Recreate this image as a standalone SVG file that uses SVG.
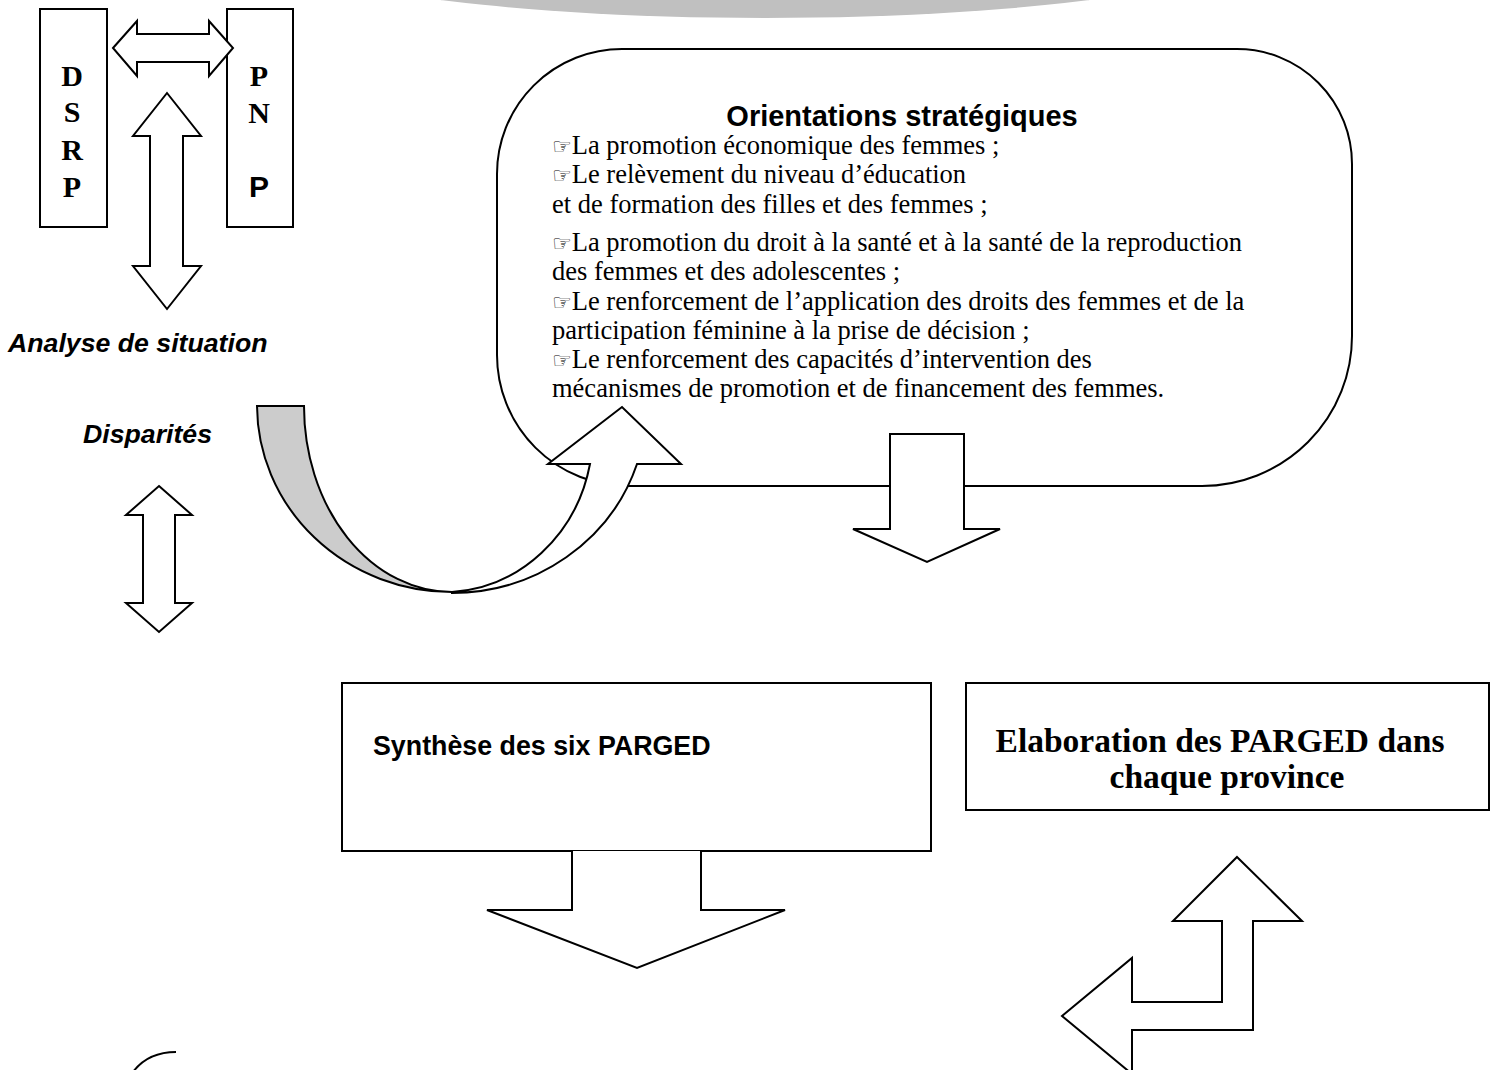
<svg xmlns="http://www.w3.org/2000/svg" width="1491" height="1070" viewBox="0 0 1491 1070">
<style>
.sh{fill:#fff;stroke:#000;stroke-width:2;stroke-linejoin:miter}
.box{fill:#fff;stroke:#000;stroke-width:2}
.tb{font-family:"Liberation Serif",serif;font-weight:bold;fill:#000}
.body{font-family:"Liberation Serif",serif;font-size:26.5px;fill:#000}
.hand{font-family:"DejaVu Sans",sans-serif;font-size:22px}
.ai{font-family:"Liberation Sans",sans-serif;font-weight:bold;font-style:italic;font-size:26.7px;fill:#000}
</style>
<rect width="1491" height="1070" fill="#fff"/>
<ellipse cx="765" cy="-60" rx="508" ry="78" fill="#c0c0c0"/>

<g id="dsrp">
<rect class="box" x="40" y="9" width="67" height="218"/>
<text class="tb" font-size="30" text-anchor="middle" x="72" y="86">D</text>
<text class="tb" font-size="30" text-anchor="middle" x="72" y="122">S</text>
<text class="tb" font-size="30" text-anchor="middle" x="72" y="160">R</text>
<text class="tb" font-size="30" text-anchor="middle" x="72" y="197">P</text>
</g>
<g id="pnp">
<rect class="box" x="227" y="9" width="66" height="218"/>
<text class="tb" font-size="30" text-anchor="middle" x="259" y="86">P</text>
<text class="tb" font-size="30" text-anchor="middle" x="259" y="123">N</text>
<text font-family="Liberation Sans,sans-serif" font-weight="bold" font-size="30" text-anchor="middle" x="259" y="197">P</text>
</g>

<g id="analyse"><text class="ai" x="8" y="352">Analyse de situation</text></g>
<g id="disparites"><text class="ai" x="83" y="443">Disparités</text></g>

<g id="orientations">
<path class="box" d="M622,49 H1237 A115,115 0 0 1 1352,164 V336 A150,150 0 0 1 1202,486 H628 A131,131 0 0 1 497,355 V174 A125,125 0 0 1 622,49 Z"/>
<text font-family="Liberation Sans,sans-serif" font-weight="bold" font-size="29" text-anchor="middle" x="902" y="126">Orientations stratégiques</text>
<text class="body" x="552" y="154"><tspan class="hand" font-weight="bold">☞</tspan>La promotion économique des femmes ;</text>
<text class="body" x="552" y="183"><tspan class="hand">☞</tspan>Le relèvement du niveau d’éducation</text>
<text class="body" x="552" y="213">et de formation des filles et des femmes ;</text>
<text class="body" x="552" y="251"><tspan class="hand">☞</tspan>La promotion du droit à la santé et à la santé de la reproduction</text>
<text class="body" x="552" y="280">des femmes et des adolescentes ;</text>
<text class="body" x="552" y="310"><tspan class="hand">☞</tspan>Le renforcement de l’application des droits des femmes et de la</text>
<text class="body" x="552" y="339">participation féminine à la prise de décision ;</text>
<text class="body" x="552" y="368"><tspan class="hand">☞</tspan>Le renforcement des capacités d’intervention des</text>
<text class="body" x="552" y="397">mécanismes de promotion et de financement des femmes.</text>
</g>

<g id="synthese">
<rect class="box" x="342" y="683" width="589" height="168"/>
<text font-family="Liberation Sans,sans-serif" font-weight="bold" font-size="26.8" x="373" y="755">Synthèse des six PARGED</text>
</g>

<g id="elaboration">
<rect class="box" x="966" y="683" width="523" height="127"/>
<text class="tb" font-size="33.5" text-anchor="middle" x="1220" y="752">Elaboration des PARGED dans</text>
<text class="tb" font-size="33.5" text-anchor="middle" x="1227" y="788">chaque province</text>
</g>

<g id="lancement">
<path d="M133,1072 Q148,1052 176,1052" fill="none" stroke="#000" stroke-width="2"/>
</g>

<g id="connectors">
<path class="sh" d="M113,48 L137,21 V34 H209 V21 L233,48 L209,76 V62 H137 V76 Z"/>
<path class="sh" d="M167,93 L201,136 H183 V266 H201 L167,309 L133,266 H150 V136 H133 Z"/>
<path class="sh" d="M159,486 L192,515 H175 V603 H192 L159,632 L126,603 H143 V515 H126 Z"/>
<path d="M257,406 L304,406 A148,186 0 0 0 452,592 A195,187 0 0 1 257,406 Z" fill="#cccccc" stroke="#000" stroke-width="2"/>
<path class="sh" d="M452,592 A150,160 0 0 0 590,464 L548,464 L622,407 L681,464 L637,464 A195,187 0 0 1 452,593 Z"/>
<path class="sh" d="M890,434 H964 V529 H1000 L927,562 L853,529 H890 Z"/>
<path class="sh" d="M572,851 V910 H487 L637,968 L785,910 H701 V851"/>
<path class="sh" d="M1237,857 L1302,921 H1253 V1030 H1132 V1074 L1062,1016 L1132,958 V1002 H1222 V921 H1173 Z"/>
</g>
</svg>
